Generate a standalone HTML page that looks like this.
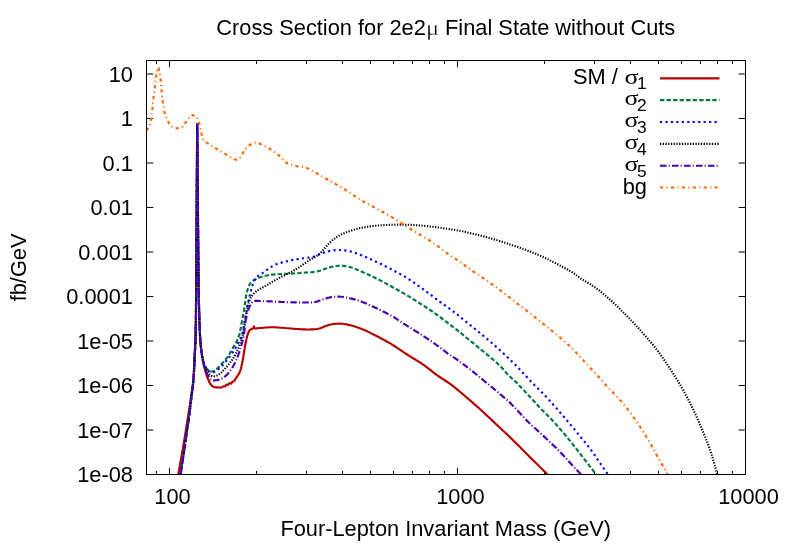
<!DOCTYPE html>
<html><head><meta charset="utf-8"><title>Cross Section</title>
<style>html,body{margin:0;padding:0;background:#fff}svg{display:block;will-change:transform}</style></head>
<body>
<svg width="789" height="549" viewBox="0 0 789 549">
<rect width="789" height="549" fill="#fff"/>
<clipPath id="c"><rect x="146.0" y="60.0" width="600.0" height="415.0"/></clipPath>
<path d="M146.5,474.50h6.8 M745.5,474.50h-6.8 M146.5,430.00h6.8 M745.5,430.00h-6.8 M146.5,385.50h6.8 M745.5,385.50h-6.8 M146.5,341.00h6.8 M745.5,341.00h-6.8 M146.5,296.50h6.8 M745.5,296.50h-6.8 M146.5,252.00h6.8 M745.5,252.00h-6.8 M146.5,207.50h6.8 M745.5,207.50h-6.8 M146.5,163.00h6.8 M745.5,163.00h-6.8 M146.5,118.50h6.8 M745.5,118.50h-6.8 M146.5,74.00h6.8 M745.5,74.00h-6.8 M156.50,474.5v-3.6 M156.50,60.5v3.6 M169.50,474.5v-6.8 M169.50,60.5v6.8 M256.50,474.5v-3.6 M256.50,60.5v3.6 M306.50,474.5v-3.6 M306.50,60.5v3.6 M342.50,474.5v-3.6 M342.50,60.5v3.6 M370.50,474.5v-3.6 M370.50,60.5v3.6 M393.50,474.5v-3.6 M393.50,60.5v3.6 M412.50,474.5v-3.6 M412.50,60.5v3.6 M429.50,474.5v-3.6 M429.50,60.5v3.6 M444.50,474.5v-3.6 M444.50,60.5v3.6 M457.50,474.5v-6.8 M457.50,60.5v6.8 M544.50,474.5v-3.6 M544.50,60.5v3.6 M594.50,474.5v-3.6 M594.50,60.5v3.6 M630.50,474.5v-3.6 M630.50,60.5v3.6 M658.50,474.5v-3.6 M658.50,60.5v3.6 M681.50,474.5v-3.6 M681.50,60.5v3.6 M700.50,474.5v-3.6 M700.50,60.5v3.6 M717.50,474.5v-3.6 M717.50,60.5v3.6 M732.50,474.5v-3.6 M732.50,60.5v3.6" stroke="#000" stroke-width="1" fill="none"/>
<g clip-path="url(#c)" fill="none" stroke-linejoin="round" stroke-linecap="butt">
<path d="M178.2,474.5 L179.6,466.7 L181.0,458.9 L182.4,451.1 L183.7,443.7 L184.7,437.5 L185.7,431.5 L186.6,425.7 L187.5,420.0 L188.3,414.9 L189.1,409.9 L189.9,405.0 L190.6,400.0 L191.3,395.1 L192.0,390.1 L192.7,385.2 L193.2,380.0 L193.7,373.8 L194.0,367.3 L194.3,360.9 L194.6,355.0 L194.8,351.0 L195.0,347.3 L195.2,343.7 L195.4,340.0 L195.5,336.3 L195.6,332.7 L195.7,329.0 L195.8,325.0 L195.9,319.2 L196.0,312.9 L196.0,306.4 L196.1,300.0 L197.2,124.0 L197.2,124.0 L197.5,155.2 L197.8,188.6 L198.0,222.0 L198.3,253.1 L198.6,279.9 L198.9,300.0 L199.0,305.5 L199.1,310.1 L199.2,314.1 L199.3,317.7 L199.5,321.3 L199.6,325.0 L199.7,328.5 L199.9,332.0 L200.0,335.4 L200.2,338.7 L200.4,341.9 L200.7,345.0 L201.0,347.5 L201.2,349.8 L201.5,352.1 L201.9,354.4 L202.2,356.6 L202.6,358.7 L202.9,360.6 L203.3,362.4 L203.7,364.1 L204.0,365.9 L204.5,367.6 L204.9,369.3 L205.3,370.9 L205.8,372.6 L206.3,374.2 L206.8,375.8 L207.3,377.4 L207.9,378.8 L208.4,379.9 L208.8,381.0 L209.3,382.1 L209.8,383.0 L210.3,383.9 L210.9,384.7 L211.3,385.2 L211.8,385.6 L212.2,386.0 L212.7,386.4 L213.2,386.6 L213.8,386.9 L214.5,387.1 L215.3,387.3 L216.2,387.4 L217.0,387.4 L217.9,387.5 L218.6,387.5 L219.1,387.5 L219.7,387.6 L220.1,387.6 L220.6,387.5 L221.1,387.5 L221.5,387.4 L221.8,387.3 L222.1,387.1 L222.4,386.8 L222.7,386.6 L223.0,386.4 L223.3,386.3 L223.6,386.3 L223.9,386.3 L224.2,386.4 L224.5,386.4 L224.7,386.5 L225.0,386.4 L225.3,386.2 L225.5,385.9 L225.8,385.5 L226.0,385.1 L226.2,384.8 L226.5,384.6 L226.7,384.6 L227.0,384.6 L227.2,384.7 L227.5,384.9 L227.8,384.9 L228.0,384.9 L228.3,384.7 L228.5,384.4 L228.8,384.0 L229.0,383.7 L229.2,383.4 L229.5,383.2 L229.7,383.2 L230.0,383.3 L230.3,383.4 L230.5,383.5 L230.8,383.6 L231.0,383.6 L231.3,383.4 L231.5,383.1 L231.7,382.7 L232.0,382.2 L232.2,381.9 L232.5,381.6 L232.7,381.5 L233.0,381.5 L233.3,381.5 L233.5,381.4 L233.8,381.4 L234.0,381.3 L234.2,381.1 L234.5,380.8 L234.6,380.5 L234.8,380.1 L235.0,379.7 L235.2,379.4 L235.4,379.1 L235.5,378.8 L235.7,378.6 L235.9,378.3 L236.1,378.0 L236.3,377.6 L236.8,376.8 L237.4,376.0 L238.1,375.0 L238.7,373.9 L239.4,372.8 L239.9,371.7 L240.4,370.3 L240.9,368.7 L241.3,367.0 L241.6,365.4 L242.0,363.7 L242.3,362.2 L242.6,361.0 L242.8,359.8 L243.0,358.7 L243.2,357.5 L243.4,356.3 L243.6,355.0 L243.9,353.1 L244.2,351.1 L244.6,348.9 L244.9,346.8 L245.3,344.7 L245.7,342.7 L246.0,341.1 L246.4,339.5 L246.7,337.9 L247.1,336.5 L247.5,335.1 L247.9,333.9 L248.2,333.2 L248.4,332.5 L248.7,331.9 L249.0,331.3 L249.3,330.8 L249.7,330.3 L250.0,330.0 L250.4,329.7 L250.8,329.4 L251.2,329.2 L251.5,329.0 L251.9,328.8 L252.2,328.7 L252.5,328.6 L252.8,328.6 L253.1,328.5 L253.3,328.4 L253.5,328.3 L253.7,328.0 L253.8,327.6 L253.8,327.1 L253.9,326.7 L253.9,326.4 L254.0,326.3 L254.1,326.4 L254.1,326.7 L254.2,327.2 L254.2,327.6 L254.4,328.0 L254.6,328.3 L255.1,328.5 L255.8,328.5 L256.6,328.4 L257.5,328.3 L258.5,328.1 L259.5,328.0 L261.4,327.9 L263.5,327.7 L265.9,327.5 L268.3,327.4 L270.6,327.2 L272.9,327.2 L274.9,327.2 L276.8,327.4 L278.7,327.5 L280.5,327.7 L282.4,327.8 L284.4,328.0 L286.6,328.2 L288.8,328.3 L291.1,328.5 L293.4,328.7 L295.6,328.9 L297.7,329.0 L299.4,329.1 L301.1,329.2 L302.8,329.4 L304.4,329.4 L306.0,329.5 L307.7,329.5 L309.4,329.5 L311.2,329.4 L312.9,329.4 L314.6,329.2 L316.4,329.0 L318.2,328.7 L320.2,328.2 L322.3,327.4 L324.4,326.6 L326.5,325.8 L328.6,325.0 L330.6,324.5 L332.4,324.2 L334.2,323.9 L335.9,323.8 L337.7,323.7 L339.4,323.6 L341.1,323.7 L342.7,323.8 L344.3,324.0 L345.9,324.3 L347.5,324.6 L349.1,325.0 L350.7,325.4 L352.4,325.8 L354.1,326.3 L355.8,326.8 L357.6,327.4 L359.4,328.0 L361.2,328.7 L363.6,329.7 L366.1,330.8 L368.7,332.1 L371.3,333.4 L373.9,334.7 L376.5,336.0 L379.1,337.3 L381.6,338.7 L384.2,340.0 L386.7,341.5 L389.3,342.9 L391.8,344.4 L394.4,346.0 L396.9,347.7 L399.5,349.4 L402.0,351.1 L404.5,352.8 L407.1,354.5 L409.6,356.1 L412.2,357.7 L414.8,359.2 L417.3,360.8 L419.9,362.4 L422.4,364.1 L425.0,365.9 L427.6,367.9 L430.2,369.9 L432.7,371.9 L435.2,373.8 L437.7,375.6 L439.8,377.0 L441.8,378.4 L443.9,379.7 L445.9,381.0 L447.9,382.3 L450.0,383.8 L452.5,385.7 L455.0,387.7 L457.6,389.8 L460.2,392.0 L462.7,394.1 L465.3,396.3 L467.9,398.5 L470.4,400.7 L473.0,402.9 L475.5,405.2 L478.1,407.4 L480.6,409.7 L483.2,412.0 L485.7,414.4 L488.3,416.8 L490.8,419.2 L493.4,421.6 L495.9,424.0 L498.5,426.4 L501.0,428.8 L503.6,431.2 L506.1,433.5 L508.7,436.0 L511.2,438.4 L513.8,440.9 L516.4,443.5 L519.0,446.1 L521.6,448.7 L524.1,451.3 L526.5,453.7 L528.5,455.7 L530.5,457.7 L532.4,459.6 L534.3,461.4 L536.2,463.3 L538.0,465.1 L539.6,466.7 L541.3,468.3 L542.9,469.9 L544.4,471.4 L546.0,472.9 L547.6,474.5" stroke="#b40000" stroke-width="2.15"/>
<path d="M180.6,474.5 L182.7,460.2 L184.9,445.6 L186.9,431.7 L188.6,420.0 L189.4,414.3 L190.0,409.4 L190.5,404.8 L191.1,400.0 L191.7,395.1 L192.4,390.1 L193.0,385.2 L193.5,380.0 L193.9,373.8 L194.3,367.3 L194.5,360.9 L194.8,355.0 L195.0,351.0 L195.2,347.3 L195.4,343.7 L195.5,340.0 L195.6,336.3 L195.7,332.7 L195.7,329.0 L195.8,325.0 L195.9,319.2 L196.0,312.9 L196.0,306.4 L196.1,300.0 L197.2,124.0 L197.2,124.0 L197.5,155.2 L197.8,188.6 L198.0,222.0 L198.3,253.1 L198.6,279.9 L198.9,300.0 L199.0,305.5 L199.1,310.1 L199.2,314.1 L199.3,317.7 L199.5,321.3 L199.6,325.0 L199.7,328.5 L199.9,332.0 L200.0,335.4 L200.2,338.7 L200.4,341.9 L200.7,345.0 L201.0,347.5 L201.2,350.0 L201.5,352.4 L201.9,354.6 L202.2,356.8 L202.6,358.7 L202.9,359.9 L203.2,361.1 L203.5,362.2 L203.8,363.2 L204.1,364.1 L204.5,365.0 L204.8,365.6 L205.1,366.2 L205.4,366.7 L205.8,367.2 L206.1,367.7 L206.5,368.2 L206.9,368.6 L207.3,369.1 L207.7,369.5 L208.2,369.9 L208.6,370.2 L209.1,370.5 L209.6,370.8 L210.0,371.0 L210.5,371.2 L211.0,371.4 L211.5,371.5 L212.0,371.5 L212.7,371.3 L213.5,371.0 L214.4,370.5 L215.2,370.0 L216.0,369.4 L216.8,368.8 L217.7,368.1 L218.6,367.2 L219.5,366.3 L220.3,365.4 L221.2,364.4 L222.1,363.4 L223.1,362.3 L224.1,361.2 L225.1,360.0 L226.1,358.8 L227.1,357.6 L228.0,356.3 L228.9,355.0 L229.7,353.6 L230.5,352.1 L231.3,350.7 L232.1,349.3 L232.8,348.0 L233.4,347.0 L234.0,346.0 L234.6,345.0 L235.2,344.1 L235.8,343.1 L236.3,342.1 L236.9,341.0 L237.4,339.8 L238.0,338.5 L238.5,337.3 L238.9,336.1 L239.3,335.0 L239.5,334.2 L239.7,333.4 L239.9,332.6 L240.0,331.8 L240.2,330.9 L240.4,329.9 L240.9,327.2 L241.5,323.9 L242.2,320.2 L242.9,316.3 L243.6,312.4 L244.2,308.9 L244.7,305.9 L245.1,302.8 L245.5,299.8 L246.0,296.8 L246.4,294.1 L247.0,291.7 L247.4,290.2 L247.8,288.8 L248.3,287.4 L248.8,286.2 L249.3,285.1 L249.9,284.0 L250.4,283.2 L251.0,282.5 L251.6,281.9 L252.2,281.3 L252.9,280.8 L253.7,280.2 L255.0,279.4 L256.5,278.7 L258.1,278.0 L259.8,277.4 L261.6,276.8 L263.3,276.3 L265.1,275.8 L266.9,275.5 L268.8,275.1 L270.7,274.9 L272.7,274.6 L274.8,274.4 L277.8,274.2 L281.1,274.0 L284.6,273.9 L288.0,273.8 L291.1,273.6 L293.9,273.5 L295.4,273.4 L296.7,273.3 L298.0,273.2 L299.2,273.1 L300.5,272.9 L301.9,272.8 L304.2,272.6 L306.8,272.5 L309.5,272.3 L312.2,272.1 L314.8,271.8 L317.2,271.4 L319.0,271.0 L320.6,270.4 L322.2,269.8 L323.8,269.3 L325.3,268.7 L326.8,268.2 L328.1,267.8 L329.4,267.5 L330.7,267.1 L331.9,266.8 L333.2,266.5 L334.4,266.3 L335.5,266.1 L336.6,266.0 L337.7,265.8 L338.8,265.7 L339.9,265.7 L341.1,265.7 L342.5,265.8 L343.9,265.9 L345.3,266.1 L346.7,266.3 L348.2,266.6 L349.7,267.0 L351.5,267.5 L353.4,268.2 L355.3,268.9 L357.2,269.7 L359.2,270.5 L361.2,271.4 L363.6,272.5 L366.2,273.6 L368.7,274.8 L371.3,276.0 L373.9,277.2 L376.5,278.5 L379.1,279.8 L381.6,281.1 L384.2,282.5 L386.7,283.9 L389.3,285.3 L391.8,286.7 L394.4,288.1 L396.9,289.5 L399.5,291.0 L402.0,292.4 L404.6,293.9 L407.1,295.4 L409.7,296.9 L412.2,298.5 L414.8,300.1 L417.3,301.6 L419.9,303.3 L422.4,304.9 L425.0,306.6 L427.6,308.4 L430.2,310.1 L432.8,311.9 L435.3,313.7 L437.7,315.4 L439.8,316.9 L441.8,318.4 L443.8,319.9 L445.7,321.3 L447.5,322.7 L449.2,324.0 L450.3,324.8 L451.3,325.6 L452.2,326.3 L453.1,327.0 L454.2,327.8 L455.3,328.7 L457.5,330.4 L459.9,332.4 L462.5,334.5 L465.2,336.7 L468.0,339.0 L470.6,341.1 L473.2,343.2 L475.7,345.2 L478.3,347.3 L480.8,349.4 L483.4,351.5 L485.9,353.6 L488.6,355.8 L491.3,358.2 L494.1,360.5 L496.7,362.8 L499.1,365.0 L501.2,367.0 L502.3,368.2 L503.3,369.3 L504.2,370.4 L505.1,371.5 L506.0,372.6 L507.0,373.7 L508.4,375.1 L509.9,376.5 L511.5,378.0 L513.2,379.5 L514.8,381.0 L516.5,382.6 L518.4,384.5 L520.2,386.4 L522.1,388.4 L524.1,390.5 L526.0,392.6 L528.0,394.7 L530.3,397.2 L532.7,399.8 L535.1,402.4 L537.4,405.0 L539.7,407.5 L541.8,409.7 L543.2,411.1 L544.4,412.3 L545.6,413.5 L546.8,414.6 L548.1,415.9 L549.5,417.3 L551.8,419.7 L554.3,422.4 L556.9,425.4 L559.6,428.4 L562.2,431.5 L564.8,434.5 L567.4,437.7 L570.1,440.9 L572.7,444.3 L575.3,447.5 L577.8,450.7 L580.1,453.7 L581.9,455.9 L583.5,458.1 L585.2,460.2 L586.7,462.2 L588.2,464.2 L589.7,466.1 L590.9,467.6 L592.0,469.0 L593.0,470.4 L594.1,471.8 L595.1,473.1 L596.2,474.5" stroke="#007840" stroke-width="2.15" stroke-dasharray="4.36,2.18"/>
<path d="M180.6,474.5 L182.7,460.2 L184.9,445.6 L186.9,431.7 L188.6,420.0 L189.4,414.3 L190.0,409.4 L190.5,404.8 L191.1,400.0 L191.7,395.1 L192.4,390.1 L193.0,385.2 L193.5,380.0 L193.9,373.8 L194.3,367.3 L194.5,360.9 L194.8,355.0 L195.0,351.0 L195.2,347.3 L195.4,343.7 L195.5,340.0 L195.6,336.3 L195.7,332.7 L195.7,329.0 L195.8,325.0 L195.9,319.2 L196.0,312.9 L196.0,306.4 L196.1,300.0 L197.2,124.0 L197.2,124.0 L197.5,155.2 L197.8,188.6 L198.0,222.0 L198.3,253.1 L198.6,279.9 L198.9,300.0 L199.0,305.5 L199.1,310.1 L199.2,314.1 L199.3,317.7 L199.5,321.3 L199.6,325.0 L199.7,328.5 L199.9,332.0 L200.0,335.4 L200.2,338.7 L200.4,341.9 L200.7,345.0 L201.0,347.5 L201.2,350.0 L201.5,352.4 L201.9,354.6 L202.2,356.8 L202.6,358.7 L202.9,359.9 L203.2,361.1 L203.5,362.1 L203.8,363.1 L204.1,364.1 L204.5,365.0 L204.8,365.7 L205.1,366.3 L205.4,366.9 L205.8,367.4 L206.1,368.0 L206.5,368.5 L206.9,369.0 L207.3,369.5 L207.7,369.9 L208.1,370.4 L208.6,370.8 L209.1,371.1 L209.7,371.4 L210.4,371.7 L211.1,372.0 L211.8,372.2 L212.5,372.3 L213.2,372.3 L213.9,372.1 L214.6,371.8 L215.3,371.4 L216.0,370.9 L216.7,370.4 L217.4,369.9 L218.2,369.3 L219.0,368.7 L219.7,368.0 L220.5,367.3 L221.3,366.6 L222.1,365.8 L223.1,364.8 L224.1,363.6 L225.1,362.4 L226.0,361.2 L227.0,360.0 L228.0,358.7 L229.0,357.4 L230.0,356.0 L231.1,354.6 L232.0,353.2 L233.0,351.8 L233.9,350.4 L234.7,349.2 L235.4,348.0 L236.1,346.8 L236.8,345.6 L237.5,344.4 L238.1,343.3 L238.7,342.3 L239.2,341.2 L239.8,340.2 L240.3,339.2 L240.7,338.2 L241.1,337.4 L241.3,337.0 L241.5,336.6 L241.6,336.3 L241.7,335.9 L241.9,335.5 L242.0,335.0 L242.3,333.7 L242.7,332.1 L243.0,330.3 L243.4,328.4 L243.8,326.3 L244.2,324.2 L244.8,321.0 L245.4,317.6 L246.0,313.9 L246.7,310.1 L247.3,306.5 L248.0,303.1 L248.6,300.4 L249.2,297.7 L249.8,295.0 L250.4,292.5 L251.1,290.1 L251.8,287.8 L252.4,286.0 L252.9,284.3 L253.5,282.7 L254.1,281.1 L254.8,279.6 L255.7,278.3 L256.7,277.1 L257.9,276.1 L259.2,275.2 L260.5,274.3 L261.9,273.5 L263.3,272.5 L265.1,271.2 L266.9,269.9 L268.8,268.5 L270.8,267.2 L272.8,265.9 L274.8,264.9 L276.7,264.1 L278.6,263.4 L280.5,262.9 L282.4,262.4 L284.4,261.9 L286.3,261.4 L288.2,260.9 L290.1,260.5 L292.0,260.1 L293.9,259.8 L295.8,259.4 L297.7,259.1 L299.7,258.8 L301.7,258.5 L303.8,258.2 L305.8,258.0 L307.6,257.7 L309.2,257.5 L310.0,257.4 L310.7,257.3 L311.3,257.2 L311.9,257.1 L312.6,256.9 L313.4,256.7 L315.0,256.2 L316.9,255.4 L318.9,254.6 L321.0,253.7 L323.0,252.9 L324.9,252.3 L326.4,251.9 L327.9,251.5 L329.3,251.1 L330.7,250.9 L332.1,250.6 L333.5,250.4 L334.6,250.2 L335.7,250.1 L336.8,250.0 L337.9,250.0 L339.0,250.0 L340.2,250.0 L341.7,250.1 L343.2,250.2 L344.8,250.4 L346.4,250.6 L348.1,250.9 L349.7,251.3 L351.6,251.8 L353.4,252.3 L355.3,253.0 L357.2,253.7 L359.2,254.4 L361.2,255.2 L363.6,256.2 L366.2,257.2 L368.7,258.4 L371.3,259.5 L373.9,260.7 L376.5,261.9 L379.1,263.1 L381.6,264.3 L384.2,265.6 L386.7,266.9 L389.3,268.2 L391.8,269.5 L394.4,270.9 L396.9,272.2 L399.5,273.6 L402.0,275.1 L404.6,276.6 L407.1,278.1 L409.7,279.8 L412.2,281.5 L414.8,283.2 L417.3,285.1 L419.9,286.9 L422.4,288.7 L425.0,290.6 L427.6,292.5 L430.2,294.5 L432.8,296.4 L435.3,298.3 L437.7,300.1 L439.7,301.6 L441.8,303.1 L443.8,304.5 L445.7,305.9 L447.5,307.2 L449.2,308.4 L450.3,309.2 L451.3,309.9 L452.2,310.6 L453.1,311.3 L454.2,312.1 L455.3,313.0 L457.5,314.7 L459.9,316.7 L462.5,318.8 L465.3,321.0 L468.0,323.3 L470.6,325.4 L473.2,327.5 L475.7,329.5 L478.3,331.6 L480.8,333.7 L483.4,335.8 L485.9,337.9 L488.5,340.1 L491.0,342.3 L493.6,344.5 L496.1,346.7 L498.7,349.0 L501.2,351.3 L503.8,353.7 L506.3,356.1 L508.9,358.5 L511.4,361.0 L514.0,363.5 L516.5,366.0 L519.1,368.7 L521.6,371.4 L524.2,374.2 L526.8,376.9 L529.3,379.7 L531.8,382.3 L534.1,384.7 L536.5,387.0 L538.8,389.3 L541.1,391.5 L543.4,393.9 L545.7,396.3 L548.2,399.0 L550.8,401.8 L553.3,404.7 L555.9,407.6 L558.5,410.6 L561.0,413.5 L563.6,416.5 L566.1,419.5 L568.7,422.5 L571.2,425.6 L573.8,428.6 L576.3,431.7 L578.9,434.9 L581.6,438.2 L584.4,441.5 L587.0,444.8 L589.4,447.9 L591.6,450.8 L593.0,452.7 L594.2,454.4 L595.3,456.1 L596.4,457.7 L597.5,459.4 L598.7,461.2 L600.2,463.3 L601.7,465.5 L603.2,467.7 L604.8,470.0 L606.4,472.3 L607.9,474.5" stroke="#0000ff" stroke-width="2.15" stroke-dasharray="2.18,3.27"/>
<path d="M180.6,474.5 L182.7,460.2 L184.9,445.6 L186.9,431.7 L188.6,420.0 L189.4,414.3 L190.0,409.4 L190.5,404.8 L191.1,400.0 L191.7,395.1 L192.4,390.1 L193.0,385.2 L193.5,380.0 L193.9,373.8 L194.3,367.3 L194.5,360.9 L194.8,355.0 L195.0,351.0 L195.2,347.3 L195.4,343.7 L195.5,340.0 L195.6,336.3 L195.7,332.7 L195.7,329.0 L195.8,325.0 L195.9,319.2 L196.0,312.9 L196.0,306.4 L196.1,300.0 L197.2,124.0 L197.2,124.0 L197.5,155.2 L197.8,188.6 L198.0,222.0 L198.3,253.1 L198.6,279.9 L198.9,300.0 L199.0,305.5 L199.1,310.1 L199.2,314.1 L199.3,317.7 L199.5,321.3 L199.6,325.0 L199.7,328.5 L199.9,332.0 L200.0,335.4 L200.2,338.7 L200.4,341.9 L200.7,345.0 L201.0,347.5 L201.2,349.9 L201.5,352.2 L201.9,354.4 L202.2,356.6 L202.6,358.7 L202.9,360.5 L203.3,362.3 L203.6,364.0 L204.0,365.6 L204.4,367.0 L204.9,368.2 L205.2,368.7 L205.4,369.1 L205.7,369.4 L206.0,369.7 L206.4,370.1 L206.7,370.5 L207.2,371.2 L207.8,372.1 L208.4,373.0 L209.0,373.9 L209.6,374.7 L210.3,375.3 L210.8,375.6 L211.4,375.9 L212.0,376.1 L212.6,376.3 L213.2,376.4 L213.8,376.4 L214.6,376.3 L215.3,376.2 L216.2,375.9 L217.0,375.6 L217.8,375.2 L218.6,374.7 L219.6,374.0 L220.6,373.2 L221.6,372.3 L222.6,371.3 L223.5,370.3 L224.5,369.3 L225.5,368.2 L226.5,367.0 L227.5,365.9 L228.5,364.6 L229.5,363.4 L230.4,362.2 L231.3,361.0 L232.1,359.9 L232.9,358.7 L233.7,357.5 L234.4,356.3 L235.1,355.1 L235.8,353.8 L236.4,352.4 L237.0,350.9 L237.6,349.5 L238.2,348.1 L238.7,346.8 L239.1,345.8 L239.6,344.8 L240.0,343.8 L240.4,342.8 L240.7,341.9 L241.1,340.9 L241.4,339.9 L241.7,339.0 L242.0,338.0 L242.3,337.1 L242.6,336.1 L242.8,335.0 L243.1,333.7 L243.3,332.3 L243.5,330.9 L243.7,329.4 L243.9,327.8 L244.2,326.1 L244.7,323.0 L245.3,319.3 L245.9,315.4 L246.6,311.6 L247.3,308.0 L248.0,305.0 L248.4,303.5 L248.9,302.1 L249.3,300.8 L249.8,299.7 L250.3,298.5 L250.9,297.4 L251.5,296.4 L252.2,295.4 L253.0,294.4 L253.8,293.5 L254.7,292.6 L255.7,291.7 L257.3,290.5 L259.1,289.4 L261.0,288.3 L263.1,287.2 L265.1,286.1 L267.1,285.0 L269.0,283.9 L270.9,282.7 L272.8,281.6 L274.8,280.5 L276.7,279.4 L278.6,278.3 L280.5,277.3 L282.5,276.3 L284.4,275.4 L286.3,274.4 L288.2,273.5 L290.1,272.5 L291.8,271.6 L293.5,270.6 L295.1,269.7 L296.8,268.7 L298.4,267.7 L300.0,266.7 L301.6,265.6 L303.2,264.5 L304.8,263.4 L306.4,262.2 L308.0,261.1 L309.6,260.0 L311.2,259.0 L312.8,258.1 L314.4,257.3 L316.0,256.3 L317.6,255.3 L319.1,254.2 L320.8,252.7 L322.4,250.9 L323.9,249.1 L325.5,247.2 L327.1,245.4 L328.7,243.7 L330.3,242.3 L331.8,240.9 L333.4,239.5 L335.0,238.3 L336.6,237.1 L338.3,236.0 L339.8,235.1 L341.4,234.4 L343.0,233.7 L344.6,233.0 L346.2,232.4 L347.8,231.8 L349.4,231.2 L350.9,230.7 L352.5,230.2 L354.1,229.7 L355.7,229.2 L357.4,228.8 L359.5,228.3 L361.7,227.8 L363.9,227.4 L366.2,227.0 L368.5,226.6 L370.8,226.3 L373.3,226.0 L375.8,225.7 L378.3,225.5 L380.9,225.3 L383.5,225.1 L386.1,225.0 L388.9,224.9 L391.8,224.7 L394.7,224.7 L397.6,224.6 L400.5,224.6 L403.3,224.6 L405.9,224.7 L408.5,224.8 L411.0,224.9 L413.5,225.0 L416.1,225.2 L418.6,225.4 L421.2,225.6 L423.9,225.9 L426.6,226.1 L429.2,226.4 L431.7,226.7 L433.9,226.9 L435.2,227.0 L436.3,227.2 L437.4,227.3 L438.5,227.5 L439.7,227.6 L441.0,227.8 L443.5,228.2 L446.4,228.6 L449.5,229.1 L452.7,229.6 L456.0,230.1 L459.1,230.7 L462.3,231.3 L465.5,232.0 L468.7,232.8 L471.9,233.5 L475.1,234.3 L478.3,235.1 L481.5,235.9 L484.7,236.7 L487.9,237.6 L491.0,238.5 L494.2,239.4 L497.4,240.3 L500.6,241.3 L503.8,242.3 L507.0,243.3 L510.1,244.4 L513.3,245.5 L516.5,246.6 L519.7,247.7 L522.9,248.9 L526.1,250.0 L529.3,251.2 L532.5,252.5 L535.7,253.8 L538.9,255.2 L542.1,256.6 L545.3,258.1 L548.5,259.6 L551.6,261.2 L554.8,262.8 L558.1,264.5 L561.6,266.4 L565.1,268.2 L568.4,270.1 L571.4,271.8 L573.9,273.4 L575.1,274.2 L576.1,275.0 L577.0,275.7 L577.9,276.4 L578.9,277.2 L580.0,278.0 L582.1,279.4 L584.6,280.9 L587.2,282.5 L590.0,284.1 L592.7,285.8 L595.3,287.6 L597.9,289.5 L600.5,291.5 L603.0,293.6 L605.6,295.8 L608.1,298.0 L610.6,300.2 L613.2,302.6 L615.8,305.0 L618.3,307.4 L620.8,309.9 L623.4,312.5 L625.9,315.0 L628.5,317.6 L631.0,320.3 L633.6,322.9 L636.1,325.7 L638.7,328.4 L641.2,331.2 L643.8,334.2 L646.5,337.2 L649.1,340.4 L651.7,343.4 L654.2,346.5 L656.5,349.4 L658.3,351.7 L659.9,353.9 L661.5,356.1 L663.0,358.2 L664.5,360.5 L666.1,362.8 L668.0,365.6 L669.9,368.5 L671.8,371.4 L673.7,374.4 L675.6,377.4 L677.4,380.3 L679.0,382.9 L680.5,385.4 L681.9,387.9 L683.4,390.4 L684.8,393.0 L686.2,395.6 L687.7,398.4 L689.2,401.3 L690.6,404.2 L692.1,407.2 L693.5,410.2 L694.9,413.1 L696.2,416.0 L697.5,418.9 L698.8,421.8 L700.0,424.7 L701.3,427.6 L702.5,430.6 L703.8,433.8 L705.1,437.0 L706.4,440.2 L707.7,443.4 L709.0,446.8 L710.2,450.2 L711.5,454.1 L712.7,458.1 L713.8,462.2 L715.0,466.3 L716.1,470.4 L717.3,474.5" stroke="#000000" stroke-width="2.15" stroke-dasharray="1.25,1.48"/>
<path d="M180.6,474.5 L182.7,460.2 L184.9,445.6 L186.9,431.7 L188.6,420.0 L189.4,414.3 L190.0,409.4 L190.5,404.8 L191.1,400.0 L191.7,395.1 L192.4,390.1 L193.0,385.2 L193.5,380.0 L193.9,373.8 L194.3,367.3 L194.5,360.9 L194.8,355.0 L195.0,351.0 L195.2,347.3 L195.4,343.7 L195.5,340.0 L195.6,336.3 L195.7,332.7 L195.7,329.0 L195.8,325.0 L195.9,319.2 L196.0,312.9 L196.0,306.4 L196.1,300.0 L197.2,124.0 L197.2,124.0 L197.5,155.2 L197.8,188.6 L198.0,222.0 L198.3,253.1 L198.6,279.9 L198.9,300.0 L199.0,305.5 L199.1,310.1 L199.2,314.1 L199.3,317.7 L199.5,321.3 L199.6,325.0 L199.7,328.5 L199.9,332.0 L200.0,335.4 L200.2,338.7 L200.4,341.9 L200.7,345.0 L201.0,347.5 L201.2,349.9 L201.5,352.2 L201.9,354.4 L202.2,356.6 L202.6,358.7 L202.9,360.4 L203.3,362.0 L203.6,363.6 L204.0,365.2 L204.4,366.7 L204.9,368.2 L205.4,369.7 L206.0,371.1 L206.6,372.6 L207.2,374.0 L207.9,375.3 L208.5,376.4 L209.0,377.1 L209.4,377.9 L209.9,378.5 L210.3,379.1 L210.8,379.6 L211.4,380.0 L211.9,380.2 L212.5,380.4 L213.1,380.4 L213.7,380.5 L214.4,380.4 L215.0,380.4 L215.7,380.3 L216.5,380.2 L217.3,380.1 L218.1,379.9 L218.9,379.7 L219.7,379.4 L220.7,379.0 L221.7,378.5 L222.7,378.0 L223.7,377.3 L224.7,376.7 L225.7,375.9 L226.8,374.9 L227.8,373.8 L228.8,372.6 L229.8,371.4 L230.7,370.1 L231.6,368.8 L232.5,367.4 L233.3,366.0 L234.1,364.5 L234.9,363.0 L235.6,361.4 L236.3,359.9 L237.0,358.3 L237.6,356.8 L238.2,355.2 L238.8,353.5 L239.4,352.0 L239.9,350.4 L240.3,349.0 L240.8,347.6 L241.1,346.2 L241.5,344.8 L241.8,343.4 L242.2,342.1 L242.5,340.9 L242.9,339.8 L243.2,338.6 L243.5,337.5 L243.8,336.3 L244.0,335.0 L244.2,333.3 L244.4,331.6 L244.5,329.8 L244.7,328.0 L244.8,326.1 L245.1,324.2 L245.5,322.0 L245.9,319.7 L246.4,317.3 L246.9,315.0 L247.4,312.8 L248.0,310.8 L248.4,309.5 L248.9,308.3 L249.3,307.1 L249.8,306.0 L250.4,305.0 L250.9,304.1 L251.3,303.5 L251.7,302.9 L252.1,302.4 L252.5,301.9 L253.1,301.5 L253.7,301.2 L254.9,300.9 L256.4,300.8 L258.0,300.8 L259.8,301.0 L261.6,301.1 L263.3,301.2 L265.1,301.2 L266.9,301.3 L268.8,301.4 L270.7,301.4 L272.7,301.5 L274.8,301.6 L277.7,301.7 L280.9,301.9 L284.2,302.0 L287.5,302.2 L290.8,302.3 L293.9,302.4 L296.6,302.4 L299.4,302.5 L302.1,302.5 L304.7,302.5 L307.1,302.5 L309.2,302.4 L310.4,302.4 L311.4,302.4 L312.3,302.3 L313.3,302.3 L314.2,302.2 L315.3,302.0 L316.8,301.6 L318.4,301.1 L320.0,300.5 L321.7,299.9 L323.3,299.3 L324.9,298.8 L326.2,298.4 L327.5,298.0 L328.7,297.7 L330.0,297.4 L331.2,297.1 L332.5,296.9 L333.8,296.8 L335.0,296.7 L336.3,296.6 L337.6,296.6 L338.9,296.6 L340.2,296.7 L341.7,296.8 L343.3,297.0 L344.8,297.3 L346.4,297.5 L348.1,297.8 L349.7,298.2 L351.5,298.6 L353.4,299.1 L355.3,299.6 L357.2,300.2 L359.2,300.8 L361.2,301.5 L363.6,302.4 L366.2,303.5 L368.7,304.7 L371.3,305.9 L373.9,307.1 L376.5,308.3 L379.1,309.5 L381.6,310.7 L384.2,312.0 L386.7,313.3 L389.3,314.6 L391.8,316.0 L394.4,317.5 L396.9,319.1 L399.5,320.8 L402.0,322.5 L404.6,324.2 L407.1,325.8 L409.6,327.4 L412.2,329.0 L414.8,330.6 L417.3,332.2 L419.9,333.8 L422.4,335.4 L425.0,337.1 L427.6,338.9 L430.2,340.6 L432.8,342.4 L435.3,344.2 L437.7,345.9 L439.8,347.4 L441.8,348.9 L443.8,350.5 L445.7,351.9 L447.5,353.3 L449.2,354.5 L450.3,355.2 L451.3,355.8 L452.2,356.4 L453.1,357.0 L454.2,357.6 L455.3,358.4 L457.5,359.9 L459.9,361.7 L462.5,363.7 L465.3,365.7 L468.0,367.8 L470.6,369.8 L473.2,371.9 L475.8,374.0 L478.4,376.1 L481.0,378.2 L483.5,380.3 L485.9,382.3 L487.9,383.9 L489.8,385.5 L491.7,387.0 L493.6,388.6 L495.5,390.2 L497.4,391.8 L499.6,393.7 L501.9,395.6 L504.2,397.6 L506.6,399.6 L508.9,401.7 L511.2,403.9 L513.7,406.5 L516.3,409.2 L518.8,412.0 L521.4,414.8 L523.9,417.5 L526.5,420.2 L529.0,422.7 L531.6,425.1 L534.1,427.4 L536.7,429.8 L539.2,432.1 L541.8,434.5 L544.4,436.9 L547.0,439.3 L549.5,441.7 L552.1,444.1 L554.6,446.5 L557.1,448.9 L559.4,451.3 L561.7,453.7 L564.0,456.1 L566.2,458.5 L568.4,460.9 L570.5,463.2 L572.3,465.2 L574.1,467.1 L575.8,468.9 L577.5,470.8 L579.3,472.6 L581.0,474.5" stroke="#4b00b4" stroke-width="2.15" stroke-dasharray="6.54,2.18,1.09,2.18"/>
<path d="M146.3,130.6 L146.9,129.8 L147.5,129.1 L148.0,128.4 L148.6,127.6 L149.1,126.8 L149.6,125.8 L150.2,124.0 L150.6,121.9 L151.0,119.6 L151.3,117.1 L151.6,114.7 L151.9,112.4 L152.2,110.2 L152.5,107.9 L152.7,105.6 L152.9,103.4 L153.2,101.2 L153.4,99.0 L153.6,97.0 L153.9,95.1 L154.1,93.3 L154.4,91.4 L154.6,89.5 L154.9,87.5 L155.2,85.2 L155.4,82.7 L155.7,80.2 L156.0,77.8 L156.3,75.5 L156.6,73.5 L156.8,72.2 L157.1,70.8 L157.4,69.5 L157.7,68.4 L157.9,67.7 L158.2,67.4 L158.5,67.8 L158.8,68.7 L159.1,70.1 L159.4,71.7 L159.7,73.4 L160.0,75.0 L160.3,77.1 L160.5,79.5 L160.8,81.9 L161.0,84.5 L161.2,87.0 L161.4,89.4 L161.7,91.7 L161.9,94.0 L162.2,96.3 L162.4,98.5 L162.7,100.7 L163.0,102.8 L163.2,104.5 L163.4,106.1 L163.6,107.7 L163.9,109.3 L164.1,110.9 L164.5,112.4 L164.9,113.9 L165.4,115.4 L165.9,116.9 L166.5,118.4 L167.1,119.7 L167.7,121.0 L168.3,122.0 L168.9,123.0 L169.5,123.9 L170.1,124.8 L170.8,125.5 L171.6,126.2 L172.3,126.7 L173.1,127.1 L173.9,127.5 L174.7,127.7 L175.5,127.9 L176.3,128.1 L177.1,128.2 L177.9,128.3 L178.8,128.2 L179.6,128.2 L180.4,128.0 L181.1,127.7 L181.8,127.2 L182.5,126.6 L183.2,125.8 L183.8,125.0 L184.4,124.2 L185.0,123.4 L185.5,122.7 L186.1,121.9 L186.5,121.1 L187.0,120.4 L187.5,119.6 L188.1,118.9 L188.7,118.2 L189.3,117.4 L189.9,116.6 L190.6,116.0 L191.3,115.5 L192.0,115.2 L192.7,115.2 L193.5,115.4 L194.3,115.7 L195.1,116.2 L195.9,116.7 L196.5,117.3 L197.0,118.0 L197.5,118.7 L197.9,119.6 L198.2,120.4 L198.5,121.3 L198.8,122.2 L199.1,123.1 L199.3,123.9 L199.6,124.8 L199.8,125.7 L200.0,126.6 L200.2,127.5 L200.4,128.4 L200.6,129.3 L200.8,130.2 L201.0,131.1 L201.2,132.0 L201.4,132.9 L201.6,133.8 L201.7,134.7 L201.9,135.6 L202.0,136.5 L202.3,137.4 L202.6,138.2 L203.0,138.9 L203.5,139.6 L204.1,140.2 L204.7,140.8 L205.3,141.3 L205.9,141.9 L206.6,142.5 L207.3,143.0 L208.0,143.5 L208.8,144.0 L209.6,144.5 L210.4,145.0 L211.3,145.6 L212.3,146.2 L213.3,146.8 L214.3,147.4 L215.4,148.0 L216.5,148.7 L218.0,149.6 L219.5,150.6 L221.2,151.6 L222.8,152.6 L224.5,153.6 L226.1,154.5 L227.7,155.5 L229.4,156.6 L231.2,157.7 L232.8,158.6 L234.3,159.3 L235.7,159.6 L236.4,159.6 L237.1,159.5 L237.7,159.3 L238.3,159.1 L238.9,158.7 L239.5,158.3 L240.3,157.4 L241.1,156.2 L241.9,154.8 L242.6,153.4 L243.4,152.0 L244.3,150.7 L245.2,149.6 L246.1,148.5 L247.0,147.5 L248.0,146.5 L249.0,145.7 L250.0,144.9 L250.9,144.3 L251.8,143.8 L252.8,143.3 L253.7,143.0 L254.7,142.7 L255.7,142.6 L256.8,142.7 L257.8,142.9 L258.9,143.3 L260.0,143.8 L261.2,144.3 L262.4,144.9 L264.2,145.8 L266.2,146.8 L268.2,148.0 L270.3,149.2 L272.2,150.5 L273.9,151.6 L275.0,152.4 L276.1,153.2 L277.1,154.0 L278.0,154.8 L279.0,155.6 L280.0,156.5 L281.2,157.6 L282.5,158.9 L283.7,160.2 L285.0,161.4 L286.3,162.6 L287.7,163.5 L288.9,164.1 L290.1,164.6 L291.4,165.0 L292.7,165.4 L294.0,165.7 L295.3,166.0 L296.8,166.3 L298.4,166.4 L300.1,166.5 L301.7,166.7 L303.3,166.9 L304.9,167.3 L306.5,167.9 L308.1,168.6 L309.6,169.4 L311.1,170.3 L312.7,171.2 L314.4,172.1 L316.5,173.2 L318.7,174.5 L320.9,175.7 L323.2,177.1 L325.5,178.4 L327.8,179.7 L330.3,181.1 L332.8,182.5 L335.3,183.9 L337.9,185.3 L340.5,186.8 L343.1,188.4 L345.9,190.2 L348.8,192.1 L351.7,194.1 L354.7,196.1 L357.5,198.0 L360.4,199.8 L363.0,201.3 L365.6,202.7 L368.2,204.1 L370.7,205.4 L373.2,206.8 L375.7,208.1 L378.0,209.3 L380.2,210.6 L382.4,211.8 L384.6,213.0 L386.8,214.2 L389.0,215.5 L391.4,216.9 L393.7,218.4 L396.1,219.9 L398.5,221.4 L400.9,223.0 L403.3,224.5 L405.8,226.1 L408.4,227.6 L410.9,229.2 L413.5,230.8 L416.0,232.3 L418.6,233.9 L421.2,235.4 L423.7,237.0 L426.3,238.5 L428.8,240.0 L431.4,241.6 L433.9,243.3 L436.6,245.2 L439.3,247.2 L442.0,249.3 L444.6,251.4 L447.0,253.2 L449.2,254.8 L450.3,255.6 L451.3,256.2 L452.2,256.7 L453.2,257.3 L454.2,257.9 L455.3,258.6 L457.5,260.1 L459.9,261.8 L462.5,263.7 L465.2,265.7 L468.0,267.6 L470.6,269.5 L473.1,271.3 L475.7,273.0 L478.3,274.7 L480.8,276.5 L483.4,278.2 L485.9,280.0 L488.5,281.8 L491.0,283.6 L493.6,285.5 L496.1,287.3 L498.7,289.2 L501.2,291.1 L503.8,293.1 L506.4,295.1 L509.0,297.1 L511.6,299.2 L514.1,301.1 L516.5,303.0 L518.5,304.5 L520.4,305.9 L522.3,307.3 L524.1,308.7 L526.0,310.1 L528.0,311.6 L530.4,313.5 L533.0,315.5 L535.5,317.6 L538.1,319.7 L540.7,321.8 L543.3,323.9 L545.9,325.9 L548.4,328.0 L551.0,330.0 L553.5,332.1 L556.1,334.2 L558.6,336.3 L561.3,338.6 L564.0,341.0 L566.7,343.4 L569.4,345.8 L571.8,348.0 L573.9,350.1 L575.1,351.3 L576.1,352.5 L577.1,353.6 L578.0,354.7 L578.9,355.8 L580.0,357.0 L581.4,358.5 L583.0,360.1 L584.6,361.8 L586.2,363.4 L587.7,365.0 L589.2,366.6 L590.4,367.9 L591.6,369.2 L592.7,370.4 L593.9,371.6 L595.0,372.9 L596.3,374.3 L598.0,376.2 L599.8,378.2 L601.6,380.3 L603.5,382.5 L605.5,384.7 L607.5,386.9 L609.9,389.5 L612.5,392.1 L615.1,394.8 L617.8,397.6 L620.3,400.4 L622.8,403.2 L625.1,406.0 L627.4,408.9 L629.5,411.8 L631.7,414.7 L633.8,417.7 L635.9,420.7 L638.0,423.7 L640.1,426.8 L642.1,430.0 L644.1,433.1 L646.0,436.2 L647.9,439.3 L649.6,442.2 L651.3,445.1 L652.9,448.1 L654.5,451.0 L656.1,453.9 L657.7,456.8 L659.3,459.7 L661.0,462.7 L662.6,465.6 L664.3,468.6 L665.9,471.5 L667.6,474.5" stroke="#ff6600" stroke-width="2.15" stroke-dasharray="3.27,3.27,1.09,3.27"/>
</g>
<rect x="146.5" y="60.5" width="599.0" height="414.0" fill="none" stroke="#000" stroke-width="1"/>
<path d="M660.0,78.3H719.5" stroke="#b40000" stroke-width="2.15" fill="none"/>
<path d="M660.0,100.15H719.5" stroke="#007840" stroke-width="2.15" fill="none" stroke-dasharray="4.36,2.18"/>
<path d="M660.0,122.0H719.5" stroke="#0000ff" stroke-width="2.15" fill="none" stroke-dasharray="2.18,3.27"/>
<path d="M660.0,143.85H719.5" stroke="#000000" stroke-width="2.15" fill="none" stroke-dasharray="1.25,1.48"/>
<path d="M660.0,165.7H719.5" stroke="#4b00b4" stroke-width="2.15" fill="none" stroke-dasharray="6.54,2.18,1.09,2.18"/>
<path d="M660.0,187.5H719.5" stroke="#ff6600" stroke-width="2.15" fill="none" stroke-dasharray="3.27,3.27,1.09,3.27"/>
<g font-family="Liberation Sans, sans-serif" font-size="21.8" fill="#000">
<text class="title" transform="translate(445.75,35.00) scale(1.0,1)" text-anchor="middle" font-size="21.8">Cross Section for 2e2<tspan dx="13.15"> Final State without Cuts</tspan></text>
<text class="mu" transform="translate(425.9,35.0) scale(1.15,1)" font-family="Liberation Serif, serif" font-size="21.5" stroke="#fff" stroke-width="0.35">μ</text>
<text class="sub" transform="translate(646.60,89.40) scale(1.0,1)" text-anchor="end" font-size="17.4">1</text>
<text class="sig" transform="translate(624.6,83.60) scale(1.3,1)" font-family="Liberation Serif, serif" font-size="20">σ</text>
<text class="sm" transform="translate(573.00,83.50) scale(1.0,1)" text-anchor="start" font-size="21.8">SM /</text>
<text class="sub" transform="translate(646.60,111.25) scale(1.0,1)" text-anchor="end" font-size="17.4">2</text>
<text class="sig" transform="translate(624.6,105.45) scale(1.3,1)" font-family="Liberation Serif, serif" font-size="20">σ</text>
<text class="sub" transform="translate(646.60,133.10) scale(1.0,1)" text-anchor="end" font-size="17.4">3</text>
<text class="sig" transform="translate(624.6,127.30) scale(1.3,1)" font-family="Liberation Serif, serif" font-size="20">σ</text>
<text class="sub" transform="translate(646.60,154.95) scale(1.0,1)" text-anchor="end" font-size="17.4">4</text>
<text class="sig" transform="translate(624.6,149.15) scale(1.3,1)" font-family="Liberation Serif, serif" font-size="20">σ</text>
<text class="sub" transform="translate(646.60,176.80) scale(1.0,1)" text-anchor="end" font-size="17.4">5</text>
<text class="sig" transform="translate(624.6,171.00) scale(1.3,1)" font-family="Liberation Serif, serif" font-size="20">σ</text>
<text class="bg" transform="translate(647.00,194.40) scale(1.0,1)" text-anchor="end" font-size="21.8">bg</text>
<text class="yt" transform="translate(132.90,81.90) scale(1.0,1)" text-anchor="end" font-size="21.8">10</text>
<text class="yt" transform="translate(132.90,126.40) scale(1.0,1)" text-anchor="end" font-size="21.8">1</text>
<text class="yt" transform="translate(132.90,170.90) scale(1.0,1)" text-anchor="end" font-size="21.8">0.1</text>
<text class="yt" transform="translate(132.90,215.40) scale(1.0,1)" text-anchor="end" font-size="21.8">0.01</text>
<text class="yt" transform="translate(132.90,259.90) scale(1.0,1)" text-anchor="end" font-size="21.8">0.001</text>
<text class="yt" transform="translate(132.90,304.40) scale(1.0,1)" text-anchor="end" font-size="21.8">0.0001</text>
<text class="yt" transform="translate(132.90,348.90) scale(1.0,1)" text-anchor="end" font-size="21.8">1e-05</text>
<text class="yt" transform="translate(132.90,393.40) scale(1.0,1)" text-anchor="end" font-size="21.8">1e-06</text>
<text class="yt" transform="translate(132.90,437.90) scale(1.0,1)" text-anchor="end" font-size="21.8">1e-07</text>
<text class="yt" transform="translate(132.90,482.40) scale(1.0,1)" text-anchor="end" font-size="21.8">1e-08</text>
<text class="xt" transform="translate(172.50,504.20) scale(1.0,1)" text-anchor="middle" font-size="21.8">100</text>
<text class="xt" transform="translate(460.50,504.20) scale(1.0,1)" text-anchor="middle" font-size="21.8">1000</text>
<text class="xt" transform="translate(748.50,504.20) scale(1.0,1)" text-anchor="middle" font-size="21.8">10000</text>
<text class="xl" transform="translate(445.75,535.60) scale(1.0,1)" text-anchor="middle" font-size="21.8">Four-Lepton Invariant Mass (GeV)</text>
<text class="yl" transform="translate(25.70,267.40) rotate(-90) scale(1.0,1)" text-anchor="middle" font-size="21.8">fb/GeV</text>
</g>
</svg>
</body></html>
